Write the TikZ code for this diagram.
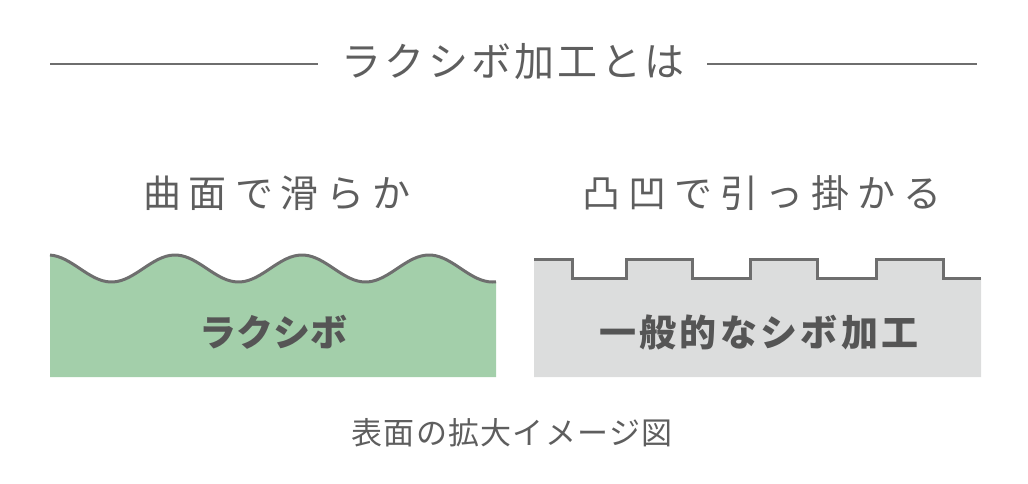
\documentclass[tikz,border=0pt]{standalone}
\usepackage{fontspec}
\newfontfamily\cjk{Noto Sans CJK JP}
\newfontfamily\cjkwide[LetterSpace=21]{Noto Sans CJK JP}
\newfontfamily\cjktitle[LetterSpace=8]{Noto Sans CJK JP}
\newfontfamily\cjkbold[LetterSpace=9]{Noto Sans CJK JP}
\newfontfamily\cjkcap[LetterSpace=4]{Noto Sans CJK JP}
\definecolor{txtgray}{HTML}{5E5E5E}
\definecolor{linegray}{HTML}{6E6E6E}
\definecolor{greenfill}{HTML}{A3CFAA}
\definecolor{grayfill}{HTML}{DCDDDD}
\definecolor{boldtxt}{HTML}{555555}
\begin{document}
\begin{tikzpicture}[x=1pt,y=-1pt,
  titletxt/.style={text=txtgray,font=\cjktitle\fontsize{40}{44}\selectfont,inner sep=0pt},
  subtxt/.style={text=txtgray,font=\cjkwide\fontsize{38}{42}\selectfont,inner sep=0pt},
  boxtxt/.style={text=boldtxt,font=\cjk\bfseries\fontsize{37}{40}\selectfont,inner sep=0pt},
  boxtxtwide/.style={text=boldtxt,font=\cjkbold\bfseries\fontsize{37}{40}\selectfont,inner sep=0pt},
  captxt/.style={text=txtgray,font=\cjkcap\fontsize{31}{34}\selectfont,inner sep=0pt},
  rule/.style={draw=linegray,line width=1.6pt},
  profile/.style={draw=linegray,line width=3pt}]
\useasboundingbox (0,0) rectangle (1028,484);
% title
\node[titletxt] (title) at (513,62) {ラクシボ加工とは};
\coordinate (l1) at (50,64);
\coordinate (l2) at (318,64);
\coordinate (r1) at (707,64);
\coordinate (r2) at (977,64);
\draw[rule] (l1) -- (l2);
\draw[rule] (r1) -- (r2);
% subtitles
\node[subtxt] (subL) at (277,193) {曲面で滑らか};
\node[subtxt] (subR) at (762,193) {凸凹で引っ掛かる};
% green wave box
\fill[greenfill] plot[domain=50:496,samples=120,smooth] (\x,{268.5-13.5*cos((\x-48)/127*360)}) -- (496,377) -- (50,377) -- cycle;
\draw[profile] plot[domain=50:496,samples=120,smooth] (\x,{268.5-13.5*cos((\x-48)/127*360)});
\node[boxtxt] (boxL) at (273,332) {ラクシボ};
% gray step box
\fill[grayfill] (534,259) -- (572,259) -- (572,278) -- (626,278) -- (626,259) -- (692,259) -- (692,278) -- (750,278) -- (750,259) -- (817,259) -- (817,278) -- (876,278) -- (876,259) -- (943,259) -- (943,278) -- (981,278) -- (981,377) -- (534,377) -- cycle;
\draw[profile] (534,259) -- (572,259) -- (572,278) -- (626,278) -- (626,259) -- (692,259) -- (692,278) -- (750,278) -- (750,259) -- (817,259) -- (817,278) -- (876,278) -- (876,259) -- (943,259) -- (943,278) -- (981,278);
\node[boxtxtwide] (boxR) at (759,332) {一般的なシボ加工};
% caption
\node[captxt] (cap) at (512,433) {表面の拡大イメージ図};
\end{tikzpicture}
\end{document}
